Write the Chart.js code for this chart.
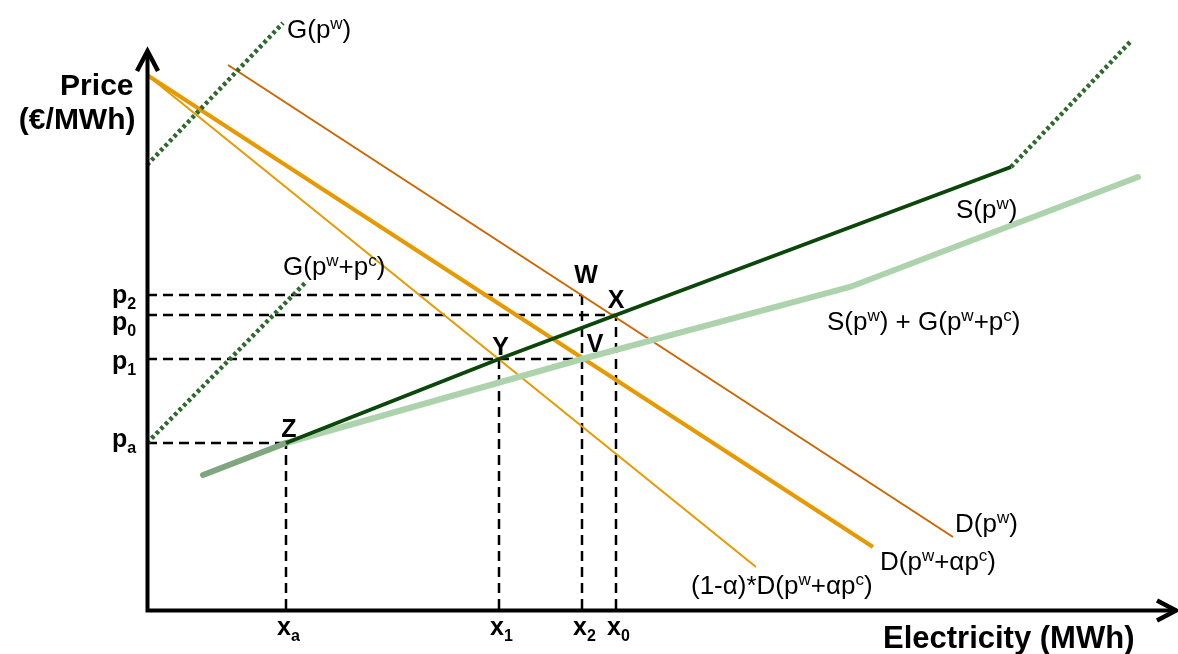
<!DOCTYPE html>
<html>
<head>
<meta charset="utf-8">
<script src="https://cdn.jsdelivr.net/npm/chart.js@4.4.0/dist/chart.umd.min.js"></script>
<style>
  html, body { margin: 0; padding: 0; background: #fff; }
  canvas { display: block; }
</style>
</head>
<body>
<canvas id="c" width="1178" height="654"></canvas>
<script>
// Diagram units: quantity along x, price along y, origin at the axes' corner.
const priceSubs = ['2', '0', '1', 'a'];
const priceLevels = [314, 294, 250, 166];
const priceGuideTo = ['W', 'X', 'V', 'Z'];

const qtySubs = ['a', '1', '2', '0'];
const qtyLevels = [139, 352, 435, 469];
const qtyGuideTo = ['Z', 'Y', 'W', 'X'];

const pointNames = ['Z', 'Y', 'V', 'W', 'X'];
const pointQty = [139, 352, 435, 435, 469];
const pointPrice = [166, 250, 250, 314, 294];

// supply curves
const sharedSupplyQty = [56, 139];
const sharedSupplyPrice = [134, 166];
const supplyQty = [139, 352, 469, 864];
const supplyPrice = [166, 250, 294, 442];
const supplyTopQty = [864, 985];
const supplyTopPrice = [442, 569];
const supplyPlusQty = [139, 435, 703, 991];
const supplyPlusPrice = [166, 250, 322, 432];

// green generation curves
const greenQty = [0, 136];
const greenPrice = [444, 586];
const greenCertQty = [0, 158];
const greenCertPrice = [166, 326];

// demand curves
const demandQty = [81, 806];
const demandPrice = [544, 72];
const demandCertQty = [0, 726];
const demandCertPrice = [534, 62];
const demandShareQty = [0, 609];
const demandSharePrice = [534, 42];

const FONT = '"Liberation Sans", Arial, sans-serif';
const pts = (xs, ys) => xs.map((x, i) => ({ x, y: ys[i] }));
const pointAt = name => {
  const i = pointNames.indexOf(name);
  return { x: pointQty[i], y: pointPrice[i] };
};

function series(data, color, width, dash, order, cap) {
  return {
    data, borderColor: color, borderWidth: width, borderDash: dash || [],
    borderCapStyle: cap || 'butt', pointRadius: 0, tension: 0, fill: false,
    clip: false, order
  };
}

const DOTS = [3.5, 3];
const datasets = [];
// dashed guides
priceLevels.forEach((p, i) => {
  const end = pointAt(priceGuideTo[i]);
  datasets.push(series([{ x: 0, y: p }, { x: end.x, y: p }], '#000', 2.5, [10, 6], 10));
});
qtyLevels.forEach((q, i) => {
  const end = pointAt(qtyGuideTo[i]);
  datasets.push(series([{ x: q, y: 0 }, { x: q, y: end.y }], '#000', 2.5, [10, 6], 10));
});
// demand
datasets.push(series(pts(demandQty, demandPrice), '#cc6600', 2, null, 6));
datasets.push(series(pts(demandCertQty, demandCertPrice), '#e69a00', 4, null, 6));
datasets.push(series(pts(demandShareQty, demandSharePrice), '#e69a00', 2, null, 6));
// supply
datasets.push(series(pts(supplyPlusQty, supplyPlusPrice), '#acd3ac', 6, null, 4, 'round'));
datasets.push(series(pts(sharedSupplyQty, sharedSupplyPrice), '#7fa77f', 6, null, 3, 'round'));
datasets.push(series(pts(supplyQty, supplyPrice), '#0b470b', 4, null, 2));
datasets.push(series(pts(supplyTopQty, supplyTopPrice), '#2e6a2e', 4.5, DOTS, 2));
datasets.push(series(pts(greenQty, greenPrice), '#2e6a2e', 4.5, DOTS, 2));
datasets.push(series(pts(greenCertQty, greenCertPrice), '#2e6a2e', 4.5, DOTS, 2));

function richText(ctx, x, y, parts, size, bold, align, subScale) {
  const w = bold ? 'bold ' : '';
  const k = subScale || 0.66;
  const fontFor = m => `${w}${m ? Math.round(size * k) : size}px ${FONT}`;
  let total = 0;
  parts.forEach(([t, m]) => { ctx.font = fontFor(m); total += ctx.measureText(t).width; });
  let cx = align === 'right' ? x - total : align === 'center' ? x - total / 2 : x;
  parts.forEach(([t, m]) => {
    ctx.font = fontFor(m);
    const dy = m === 1 ? -size * 0.36 : m === -1 ? size * 0.22 : 0;
    ctx.fillText(t, cx, y + dy);
    cx += ctx.measureText(t).width;
  });
}

const curveLabels = [
  { parts: [['G(p', 0], ['w', 1], [')', 0]], q: greenQty[1], p: greenPrice[1], dx: 4, dy: 15 },
  { parts: [['G(p', 0], ['w', 1], ['+p', 0], ['c', 1], [')', 0]], q: greenCertQty[1], p: greenCertPrice[1], dx: -22, dy: -8 },
  { parts: [['S(p', 0], ['w', 1], [')', 0]], q: supplyQty[3], p: supplyPrice[3], dx: -55, dy: 51 },
  { parts: [['S(p', 0], ['w', 1], [') + G(p', 0], ['w', 1], ['+p', 0], ['c', 1], [')', 0]], q: supplyPlusQty[2], p: supplyPlusPrice[2], dx: -23, dy: 43 },
  { parts: [['D(p', 0], ['w', 1], [')', 0]], q: demandQty[1], p: demandPrice[1], dx: 2, dy: -5 },
  { parts: [['D(p', 0], ['w', 1], ['+\u03B1p', 0], ['c', 1], [')', 0]], q: demandCertQty[1], p: demandCertPrice[1], dx: 7, dy: 23 },
  { parts: [['(1-\u03B1)*D(p', 0], ['w', 1], ['+\u03B1p', 0], ['c', 1], [')', 0]], q: demandShareQty[1], p: demandSharePrice[1], dx: -65, dy: 27 }
];
const pointLabelOffsets = { Z: [3, -6], Y: [1.5, -4], V: [13, -7], W: [4, -12], X: [0, -7] };
const priceLabelDy = [8, 15, 10, 4];

const diagramDecor = {
  id: 'diagramDecor',
  afterDatasetsDraw(chart) {
    const { ctx, chartArea, scales } = chart;
    const X = v => scales.x.getPixelForValue(v);
    const Y = v => scales.y.getPixelForValue(v);
    const ox = chartArea.left + 0.5, oy = chartArea.bottom + 1.5;
    ctx.save();
    ctx.strokeStyle = '#000';
    ctx.fillStyle = '#000';
    ctx.lineWidth = 4;
    ctx.lineCap = 'butt';
    ctx.lineJoin = 'miter';
    // axes with open arrow heads
    ctx.beginPath();
    ctx.moveTo(ox, oy + 2); ctx.lineTo(ox, 52);
    ctx.moveTo(ox - 2, oy); ctx.lineTo(1175, oy);
    ctx.stroke();
    ctx.lineWidth = 4.5;
    ctx.beginPath();
    ctx.moveTo(ox - 10.5, 71); ctx.lineTo(ox, 51); ctx.lineTo(ox + 10.5, 71);
    ctx.moveTo(1157, oy - 10); ctx.lineTo(1176, oy); ctx.lineTo(1157, oy + 10);
    ctx.stroke();

    ctx.textBaseline = 'alphabetic';
    ctx.textAlign = 'left';
    // axis titles
    richText(ctx, ox - 14, 95, [['Price', 0]], 30, true, 'right');
    richText(ctx, ox - 12, 129, [['(\u20AC/MWh)', 0]], 30, true, 'right');
    richText(ctx, 883, 648, [['Electricity (MWh)', 0]], 31, true, 'left');

    // price levels
    priceLevels.forEach((p, i) => {
      richText(ctx, 112, Y(p) + priceLabelDy[i], [['p', 0], [priceSubs[i], -1]], 25, true, 'left', 0.64);
    });
    // quantity levels
    qtyLevels.forEach((q, i) => {
      richText(ctx, X(q) - 9, 635, [['x', 0], [qtySubs[i], -1]], 25, true, 'left', 0.64);
    });
    // equilibrium points
    pointNames.forEach((n, i) => {
      const [dx, dy] = pointLabelOffsets[n];
      richText(ctx, X(pointQty[i]) + dx, Y(pointPrice[i]) + dy, [[n, 0]], 25, true, 'center');
    });
    // curve names
    curveLabels.forEach(l => {
      richText(ctx, X(l.q) + l.dx, Y(l.p) + l.dy, l.parts, 26, false, 'left');
    });
    ctx.restore();
  }
};

new Chart(document.getElementById('c'), {
  type: 'line',
  data: { datasets },
  options: {
    responsive: false,
    animation: false,
    devicePixelRatio: 1,
    layout: { padding: { left: 147, right: 0, top: 0, bottom: 45 } },
    plugins: { legend: { display: false }, tooltip: { enabled: false } },
    scales: {
      x: { type: 'linear', min: 0, max: 1031, display: false },
      y: { type: 'linear', min: 0, max: 609, display: false }
    }
  },
  plugins: [diagramDecor]
});
</script>
</body>
</html>
